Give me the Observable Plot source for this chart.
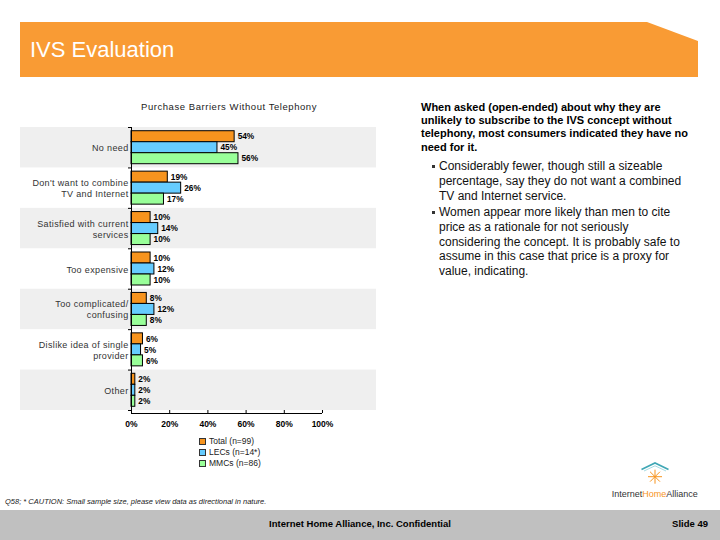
<!DOCTYPE html>
<html><head><meta charset="utf-8">
<script src="https://cdn.jsdelivr.net/npm/d3@7"></script>
<script src="https://cdn.jsdelivr.net/npm/@observablehq/plot@0.6"></script>
<style>
html,body{margin:0;padding:0;background:#fff;}
body{width:720px;height:540px;position:relative;overflow:hidden;font-family:"Liberation Sans",Arial,sans-serif;color:#000;}
.abs{position:absolute;white-space:nowrap;}
#header{left:20px;top:22px;width:678px;height:55px;background:#f99b34;clip-path:polygon(0 0,627px 0,678px 19px,678px 55px,0 55px);}
#title{left:30px;top:39px;color:#fff;font-size:22px;line-height:22px;}
#ctitle{left:99px;top:100.5px;width:260px;text-align:center;font-size:9.5px;line-height:12px;letter-spacing:0.55px;color:#222;}
#chart{left:0;top:115px;}
#legend{left:199px;top:436px;font-size:8.5px;line-height:11px;color:#222;}
#legend .row{display:flex;align-items:center;height:11px;}
#legend .sw{width:5px;height:5px;border:1px solid #333;margin-right:3px;}
#para{left:421px;top:100.5px;font-size:11px;line-height:13.4px;font-weight:bold;}
.bul{position:absolute;left:439px;font-size:12px;line-height:14.8px;color:#111;white-space:nowrap;}
.bul::before{content:"";position:absolute;left:-7px;top:6px;width:3px;height:3px;background:#333;}
#caption{left:5px;top:497px;font-size:7.5px;line-height:10px;font-style:italic;color:#222;}
#footer{left:0;top:510px;width:720px;height:30px;background:#c0c0c0;}
#conf{left:0;top:517px;width:720px;text-align:center;font-size:9.5px;line-height:14px;font-weight:bold;}
#slide{right:12px;top:517px;font-size:9.5px;line-height:14px;font-weight:bold;}
#logo{left:600px;top:455px;}
</style></head>
<body>
<div id="header" class="abs"></div>
<div id="title" class="abs">IVS Evaluation</div>
<div id="ctitle" class="abs">Purchase Barriers Without Telephony</div>
<div id="chart" class="abs"></div>
<div id="legend" class="abs"></div>
<div id="para" class="abs">When asked (open-ended) about why they are<br>unlikely to subscribe to the IVS concept without<br>telephony, most consumers indicated they have no<br>need for it.</div>
<div class="bul" style="top:159px">Considerably fewer, though still a sizeable<br>percentage, say they do not want a combined<br>TV and Internet service.</div>
<div class="bul" style="top:205px">Women appear more likely than men to cite<br>price as a rationale for not seriously<br>considering the concept. It is probably safe to<br>assume in this case that price is a proxy for<br>value, indicating.</div>
<div id="caption" class="abs">Q58; * CAUTION: Small sample size, please view data as directional in nature.</div>
<svg id="logo" class="abs" width="110" height="50" viewBox="0 0 110 50">
  <polyline points="41.5,14.5 55,8 68.5,14.5" fill="none" stroke="#3fa7b5" stroke-width="1.6"/>
  <polyline points="44,16 55,10.8 66,16" fill="none" stroke="#8fd0da" stroke-width="0.8"/>
  <g stroke="#f7941e" stroke-width="1" id="burst"></g>
  <text x="11.7" y="41.7" font-size="9" font-family="Liberation Sans, Arial, sans-serif" fill="#333">Internet<tspan fill="#f7941e">Home</tspan>Alliance</text>
</svg>
<div id="footer" class="abs"></div>
<div id="conf" class="abs">Internet Home Alliance, Inc. Confidential</div>
<div id="slide" class="abs">Slide 49</div>
<script>
// ---- data ----
const categories = ["No need", "Don't want to combine TV and Internet", "Satisfied with current services", "Too expensive", "Too complicated/ confusing", "Dislike idea of single provider", "Other"];
const categoryLabels = ["No need", "Don't want to combine\nTV and Internet", "Satisfied with current\nservices", "Too expensive", "Too complicated/\nconfusing", "Dislike idea of single\nprovider", "Other"];
const seriesNames = ["Total (n=99)", "LECs (n=14*)", "MMCs (n=86)"];
const totalValues = [54, 19, 10, 10, 8, 6, 2];
const lecValues = [45, 26, 14, 12, 12, 5, 2];
const mmcValues = [56, 17, 10, 10, 8, 6, 2];
const seriesColors = ["#f7941e", "#66ccff", "#99ff99"];
const xTicks = [0, 20, 40, 60, 80, 100];

// ---- build ----
const seriesValues = [totalValues, lecValues, mmcValues];
const rows = categories.map((c, i) => ({category: c, label: categoryLabels[i], index: i}));
const data = seriesNames.flatMap((s, si) => categories.map((c, ci) => ({series: s, si, category: c, value: seriesValues[si][ci]})));

const W = 400, MT = 12, MB = 30, ML = 131, MR = 78, plotH = 283;
const H = MT + plotH + MB;
const bandH = plotH / categories.length;
const barH = 11, pad = (bandH - 3 * barH) / 2;

const chart = Plot.plot({
  width: W, height: H,
  marginTop: MT, marginBottom: MB, marginLeft: ML, marginRight: MR,
  style: {background: "transparent", color: "#000", fontFamily: "Liberation Sans, Arial, sans-serif", overflow: "visible"},
  x: {domain: [0, 100], label: null},
  y: {domain: categories, padding: 0, round: false, axis: null},
  marks: [
    Plot.barX(rows.filter(r => r.index % 2 === 0), {y: "category", x1: 0, x2: 100, fill: "#efefef", insetLeft: -111, insetRight: -54}),
    ...seriesNames.map((s, si) => Plot.barX(data.filter(d => d.si === si), {
      y: "category", x: "value", fill: seriesColors[si], stroke: "#000", strokeWidth: 1,
      insetTop: pad + si * barH, insetBottom: pad + (2 - si) * barH
    })),
    ...seriesNames.map((s, si) => Plot.text(data.filter(d => d.si === si), {
      y: "category", x: "value", text: d => d.value + "%", textAnchor: "start", dx: 3, dy: (si - 1) * barH,
      fontWeight: "bold", fontSize: 8.3, fill: "#000"
    })),
    Plot.ruleX([0], {stroke: "#000"}),
    Plot.ruleY(rows, {y: "category", x1: 0, x2: 0, insetLeft: -3, dy: -bandH / 2, stroke: "#000"}),
    Plot.ruleY(rows.slice(-1), {y: "category", x1: 0, x2: 0, insetLeft: -3, dy: bandH / 2, stroke: "#000"}),
    Plot.ruleY(rows.slice(-1), {y: "category", x1: 0, x2: 100, dy: bandH / 2 + 3, stroke: "#000"}),
    Plot.axisX({ticks: xTicks, tickFormat: d => d + "%", tickSize: 3, tickPadding: 7, fontWeight: "bold", fontSize: 8.5, stroke: "#000", label: null}),
    Plot.text(rows, {y: "category", text: "label", frameAnchor: "left", textAnchor: "end", dx: -3, lineHeight: 1.22, fontSize: 9, fill: "#333"})
  ]
});
document.getElementById("chart").appendChild(chart);
chart.querySelectorAll("text").forEach(t => { if (t.textContent.indexOf("%") < 0) t.style.letterSpacing = "0.35px"; });

// legend
const legend = document.getElementById("legend");
seriesNames.forEach((s, i) => {
  const row = document.createElement("div"); row.className = "row";
  const sw = document.createElement("span"); sw.className = "sw"; sw.style.background = seriesColors[i];
  row.appendChild(sw); row.appendChild(document.createTextNode(s));
  legend.appendChild(row);
});

// logo burst
const burst = d3.select("#burst");
for (let k = 0; k < 8; k++) {
  const a = k * Math.PI / 4;
  burst.append("line").attr("x1", 55).attr("y1", 21.7).attr("x2", 55 + 7 * Math.cos(a)).attr("y2", 21.7 + 7 * Math.sin(a));
}
</script>
</body></html>
